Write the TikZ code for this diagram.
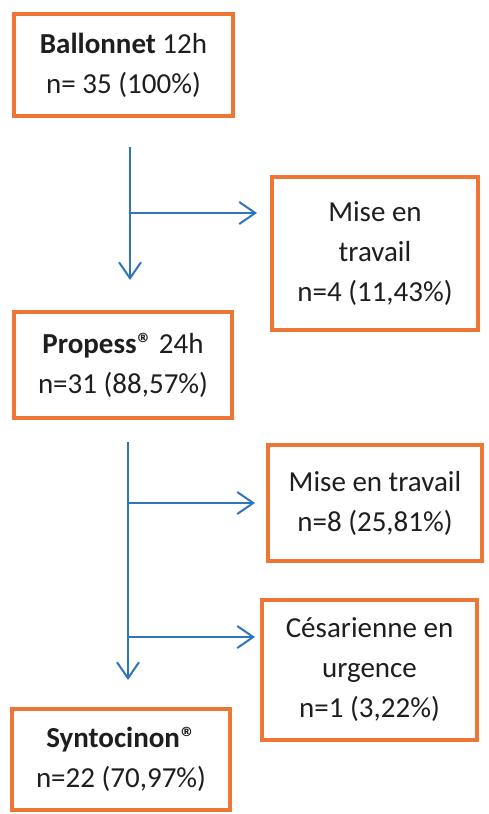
\documentclass[tikz,border=0pt]{standalone}
\usepackage{fontspec}
\setmainfont{Carlito}
\usetikzlibrary{arrows.meta}
\definecolor{boxorange}{RGB}{238,118,52}
\definecolor{arrblue}{RGB}{46,117,190}
\definecolor{txt}{RGB}{30,30,30}
\tikzset{
  box/.style={draw=boxorange, line width=4pt, fill=white, align=center, text=txt,
    font=\fontsize{29}{40}\selectfont, inner sep=0pt},
  arr/.style={draw=arrblue, line width=2pt, -{Straight Barb[length=16pt,width=22pt,line width=2pt]}}
}
\newcommand{\regmark}{\kern1pt\textregistered}
\begin{document}
\begin{tikzpicture}[x=1pt,y=-1pt]
\useasboundingbox (0,0) rectangle (488,814);
\fill[white] (0,0) rectangle (488,814);
\node[box, minimum width=219pt, minimum height=102pt] (b1) at (123.5,65) {\textbf{Ballonnet} 12h\\n= 35 (100\%)};
\node[box, minimum width=206pt, minimum height=153pt] (b2) at (375,253.5) {Mise en\\travail\\n=4 (11,43\%)};
\node[box, minimum width=218pt, minimum height=106pt] (b3) at (123,365) {\textbf{Propess\regmark} 24h\\n=31 (88,57\%)};
\node[box, minimum width=214pt, minimum height=116pt] (b4) at (375,503) {Mise en travail\\n=8 (25,81\%)};
\node[box, minimum width=215pt, minimum height=140pt] (b5) at (369.5,670) {Césarienne en\\urgence\\n=1 (3,22\%)};
\node[box, minimum width=218pt, minimum height=101pt] (b6) at (121,759.5) {\textbf{Syntocinon\regmark}\\n=22 (70,97\%)};
% first arrow group
\coordinate (a1top) at (130,147);
\coordinate (a1mid) at (130,213);
\coordinate (a1bot) at (130,280);
\coordinate (a1tip) at (257,213);
\draw[arr] (a1top) -- (a1bot);
\draw[arr] (a1mid) -- (a1tip);
% second arrow group
\coordinate (a2top) at (128,442);
\coordinate (a2m1) at (128,503);
\coordinate (a2m2) at (128,637);
\coordinate (a2bot) at (128,680);
\coordinate (a2t1) at (255,503);
\coordinate (a2t2) at (255,637);
\draw[arr] (a2top) -- (a2bot);
\draw[arr] (a2m1) -- (a2t1);
\draw[arr] (a2m2) -- (a2t2);
\end{tikzpicture}
\end{document}
